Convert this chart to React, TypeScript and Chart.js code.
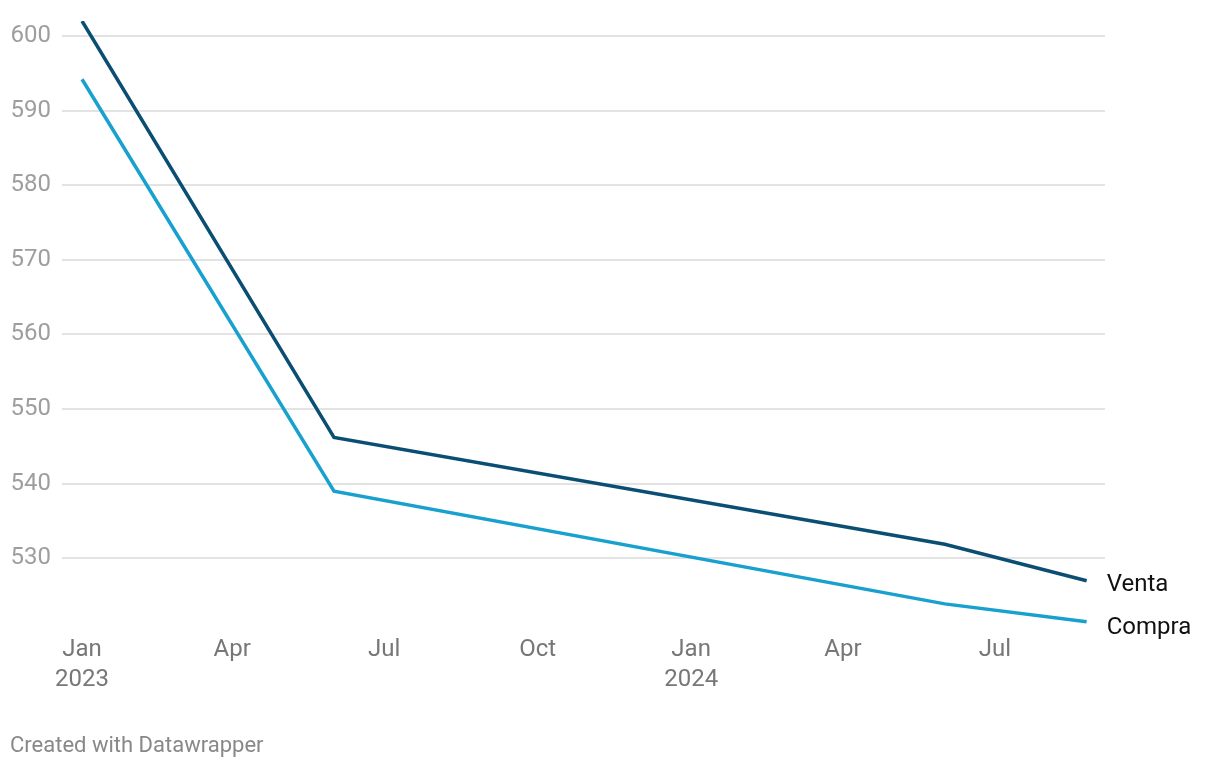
import React, { useEffect, useRef } from "react";
import { Chart, registerables } from "chart.js";

Chart.register(...registerables);

const dates = ["2023-01-01", "2023-06-01", "2024-06-01", "2024-08-25"];
const ventaValues = [602.0, 546.2, 531.9, 527.0];
const compraValues = [594.2, 539.0, 523.9, 521.5];
const seriesNames = ["Venta", "Compra"];
const seriesColors = ["#0b4e74", "#18a1cf"];
const xTickDates = ["2023-01-01", "2023-04-01", "2023-07-01", "2023-10-01", "2024-01-01", "2024-04-01", "2024-07-01"];
const xTickLabels: (string | string[])[] = [["Jan", "2023"], "Apr", "Jul", "Oct", ["Jan", "2024"], "Apr", "Jul"];
const yTicks = [530, 540, 550, 560, 570, 580, 590, 600];

const DAY = 86400000;
const toMs = (s: string) => Date.parse(s + "T00:00:00Z");

const endLabels = {
  id: "endLabels",
  afterDatasetsDraw(chart: any) {
    const ctx = chart.ctx;
    ctx.save();
    ctx.font = "24px Roboto";
    ctx.fillStyle = "#111";
    ctx.textBaseline = "middle";
    ctx.textAlign = "left";
    const offsets = [4, 6];
    chart.data.datasets.forEach((ds: any, i: number) => {
      const meta = chart.getDatasetMeta(i);
      const pt = meta.data[meta.data.length - 1];
      ctx.fillText(ds.label, pt.x + 20, pt.y + offsets[i]);
    });
    ctx.restore();
  },
};

export default function App() {
  const ref = useRef<HTMLCanvasElement>(null);
  useEffect(() => {
    if (!ref.current) return;
    const xs = dates.map(toMs);
    const chart = new Chart(ref.current, {
      type: "line",
      data: {
        datasets: [
          {
            label: seriesNames[0],
            data: xs.map((x, i) => ({ x, y: ventaValues[i] })),
            borderColor: seriesColors[0],
            borderWidth: 3.5,
            pointRadius: 0,
            tension: 0,
          },
          {
            label: seriesNames[1],
            data: xs.map((x, i) => ({ x, y: compraValues[i] })),
            borderColor: seriesColors[1],
            borderWidth: 3.5,
            pointRadius: 0,
            tension: 0,
          },
        ],
      },
      options: {
        responsive: false,
        animation: false,
        layout: { padding: { top: 21, right: 115, left: 0, bottom: 0 } },
        plugins: { legend: { display: false }, tooltip: { enabled: false } },
        scales: {
          x: {
            type: "linear",
            min: toMs("2023-01-01") - 12 * DAY,
            max: toMs("2024-08-25") + 11 * DAY,
            grid: { display: false, drawTicks: false },
            border: { display: false },
            afterBuildTicks: (scale: any) => {
              scale.ticks = xTickDates.map((d) => ({ value: toMs(d) }));
            },
            afterFit: (scale: any) => {
              scale.height = 135;
              scale.paddingLeft = 0;
              scale.paddingRight = 0;
            },
            ticks: {
              autoSkip: false,
              maxRotation: 0,
              minRotation: 0,
              padding: 2,
              color: "#777777",
              font: { family: "Roboto", size: 24, lineHeight: 1.25 },
              callback: (_v: any, i: number) => xTickLabels[i],
            },
          },
          y: {
            min: 520,
            max: 602,
            grid: { color: "#e3e3e3", lineWidth: 2, drawTicks: false },
            border: { display: false },
            afterBuildTicks: (scale: any) => {
              scale.ticks = yTicks.map((v) => ({ value: v }));
            },
            afterFit: (scale: any) => {
              scale.width = 62;
              scale.paddingTop = 0;
              scale.paddingBottom = 0;
            },
            ticks: {
              padding: 11,
              color: "#9e9e9e",
              font: { family: "Roboto", size: 24 },
              callback: (v: any) => String(v),
            },
          },
        },
      },
      plugins: [endLabels],
    });
    return () => chart.destroy();
  }, []);
  return (
    <div style={{ position: "absolute", left: 0, top: 0, width: 1220, height: 768, background: "#fff" }}>
      <canvas ref={ref} width={1220} height={768} style={{ display: "block" }} />
      <div
        style={{
          position: "absolute",
          left: 10,
          top: 731,
          fontFamily: "Roboto",
          fontSize: 22,
          color: "#888888",
          lineHeight: "28px",
        }}
      >
        Created with Datawrapper
      </div>
    </div>
  );
}
